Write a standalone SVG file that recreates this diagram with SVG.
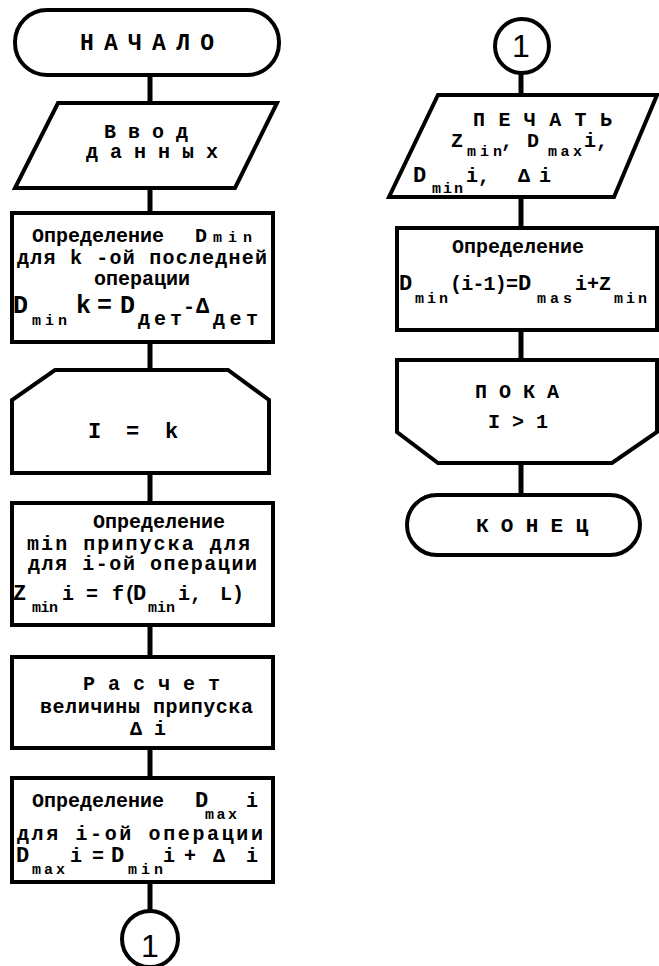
<svg xmlns="http://www.w3.org/2000/svg" width="659" height="966" viewBox="0 0 659 966">
<style>
.bg{fill:#fff}
.sh{fill:#fff;stroke:#000;stroke-width:4;stroke-linejoin:miter}
.cn{stroke:#000;stroke-width:5;fill:none}
text{font-family:"Liberation Mono","DejaVu Sans Mono",monospace;font-weight:bold;fill:#000;font-size:20px}
.sub{font-size:15px}
.big{font-size:22px}
.xl{font-size:25px}
.num{font-family:"Liberation Sans","DejaVu Sans",sans-serif;font-weight:normal;font-size:32px}
.c{text-anchor:middle}
</style>
<rect class="bg" x="0" y="0" width="659" height="966"/>
<g id="connectors">
<line class="cn" x1="150" y1="75" x2="150" y2="104"/>
<line class="cn" x1="150" y1="188" x2="150" y2="214"/>
<line class="cn" x1="150" y1="342" x2="150" y2="371"/>
<line class="cn" x1="150" y1="473" x2="150" y2="504"/>
<line class="cn" x1="150" y1="625" x2="150" y2="658"/>
<line class="cn" x1="150" y1="748" x2="150" y2="779"/>
<line class="cn" x1="150" y1="882" x2="150" y2="911"/>
<line class="cn" x1="521" y1="73" x2="521" y2="96"/>
<line class="cn" x1="521" y1="197" x2="521" y2="229"/>
<line class="cn" x1="521" y1="330" x2="521" y2="361"/>
<line class="cn" x1="521" y1="463" x2="521" y2="496"/>
</g>
<g id="start">
<rect class="sh" x="15" y="10" width="264" height="65" rx="32" ry="32"/>
<text x="80" y="50" style="font-size:23px" textLength="134" lengthAdjust="spacing">Н А Ч А Л О</text>
</g>
<g id="input">
<polygon class="sh" points="58,103 277,103 235,188 15,188"/>
<text x="146" y="138" class="c">В в о д</text>
<text x="152" y="158" class="c">д а н н ы х</text>
</g>
<g id="dmin-k">
<rect class="sh" x="12" y="213" width="261" height="129"/>
<text x="32" y="242">Определение</text>
<text x="195" y="242">D</text>
<text x="213" y="242" class="sub" textLength="39" lengthAdjust="spacing">min</text>
<text x="17" y="264" textLength="250" lengthAdjust="spacing">для  k -ой последней</text>
<text x="142" y="285" class="c">операции</text>
<text x="13" y="313" class="xl">D</text>
<text x="32" y="325" class="sub" textLength="35" lengthAdjust="spacing">min</text>
<text x="76" y="313" class="xl">k</text>
<text x="97" y="313" class="xl">=</text>
<text x="120" y="313" class="xl">D</text>
<text x="138" y="325" textLength="44" lengthAdjust="spacing">дет</text>
<text x="183" y="313">-</text>
<text x="196" y="313" class="big">Δ</text>
<text x="213" y="325" textLength="45" lengthAdjust="spacing">дет</text>
</g>
<g id="loop-start">
<polygon class="sh" points="55,370 228,370 269,400 269,473 12,473 12,400"/>
<text x="88" y="438" class="big">I</text>
<text x="126" y="438" class="big">=</text>
<text x="165" y="438" class="big">k</text>
</g>
<g id="zmin">
<rect class="sh" x="12" y="503" width="261" height="122"/>
<text x="93" y="528">Определение</text>
<text x="27" y="550" textLength="223" lengthAdjust="spacing">min  припуска  для</text>
<text x="28" y="570" textLength="229" lengthAdjust="spacing">для  i-ой операции</text>
<text x="13" y="600" class="big">Z</text>
<text x="32" y="612" class="sub" textLength="26" lengthAdjust="spacing">min</text>
<text x="62" y="600">i</text>
<text x="86" y="600">=</text>
<text x="112" y="600">f(</text>
<text x="133" y="600" class="big">D</text>
<text x="148" y="612" class="sub" textLength="27" lengthAdjust="spacing">min</text>
<text x="178" y="600">i,</text>
<text x="220" y="600">L)</text>
</g>
<g id="delta">
<rect class="sh" x="12" y="657" width="261" height="91"/>
<text x="83" y="690" textLength="137" lengthAdjust="spacing">Р а с ч е т</text>
<text x="40" y="713" textLength="213" lengthAdjust="spacing">величины припуска</text>
<text x="130" y="735">Δ i</text>
</g>
<g id="dmax">
<rect class="sh" x="12" y="778" width="261" height="104"/>
<text x="32" y="807">Определение</text>
<text x="195" y="807" class="big">D</text>
<text x="205" y="819" class="sub" textLength="32" lengthAdjust="spacing">max</text>
<text x="246" y="807">i</text>
<text x="17" y="840" textLength="246" lengthAdjust="spacing">для  i-ой операции</text>
<text x="16" y="862" class="big">D</text>
<text x="32" y="874" class="sub" textLength="33" lengthAdjust="spacing">max</text>
<text x="70" y="862">i</text>
<text x="92" y="862">=</text>
<text x="111" y="862" class="big">D</text>
<text x="128" y="874" class="sub" textLength="35" lengthAdjust="spacing">min</text>
<text x="163" y="862">i</text>
<text x="184" y="862">+</text>
<text x="213" y="862">Δ</text>
<text x="246" y="862">i</text>
</g>
<g id="conn-out">
<circle class="sh" cx="150" cy="939" r="28"/>
<text x="150" y="957" class="num c">1</text>
</g>
<g id="conn-in">
<circle class="sh" cx="522" cy="46" r="27"/>
<text x="521" y="57" class="num c">1</text>
</g>
<g id="print">
<polygon class="sh" points="438,95 657,95 614,197 389,197"/>
<text x="473" y="126" textLength="139" lengthAdjust="spacing">П Е Ч А Т Ь</text>
<text x="451" y="147">Z</text>
<text x="467" y="156" class="sub" textLength="35" lengthAdjust="spacing">min</text>
<text x="501" y="147">,</text>
<text x="527" y="147">D</text>
<text x="548" y="156" class="sub" textLength="34" lengthAdjust="spacing">max</text>
<text x="584" y="147">i,</text>
<text x="413" y="182" class="big">D</text>
<text x="432" y="193" class="sub" textLength="31" lengthAdjust="spacing">min</text>
<text x="466" y="182">i,</text>
<text x="518" y="182">Δ</text>
<text x="539" y="182">i</text>
</g>
<g id="dmin-prev">
<rect class="sh" x="397" y="228" width="260" height="102"/>
<text x="452" y="253">Определение</text>
<text x="399" y="290" class="big">D</text>
<text x="415" y="303" class="sub" textLength="33" lengthAdjust="spacing">min</text>
<text x="450" y="290" textLength="68" lengthAdjust="spacing">(i-1)=</text>
<text x="518" y="290" class="big">D</text>
<text x="537" y="303" class="sub" textLength="35" lengthAdjust="spacing">mas</text>
<text x="575" y="290">i+Z</text>
<text x="614" y="303" class="sub" textLength="33" lengthAdjust="spacing">min</text>
</g>
<g id="loop-end">
<polygon class="sh" points="397,360 657,360 657,432 612,463 438,463 397,432"/>
<text x="475" y="398">П О К А</text>
<text x="488" y="428">I &gt; 1</text>
</g>
<g id="end">
<rect class="sh" x="407" y="495" width="233" height="60" rx="30" ry="30"/>
<text x="476" y="532" style="font-size:21px" textLength="112" lengthAdjust="spacing">К О Н Е Ц</text>
</g>
</svg>
